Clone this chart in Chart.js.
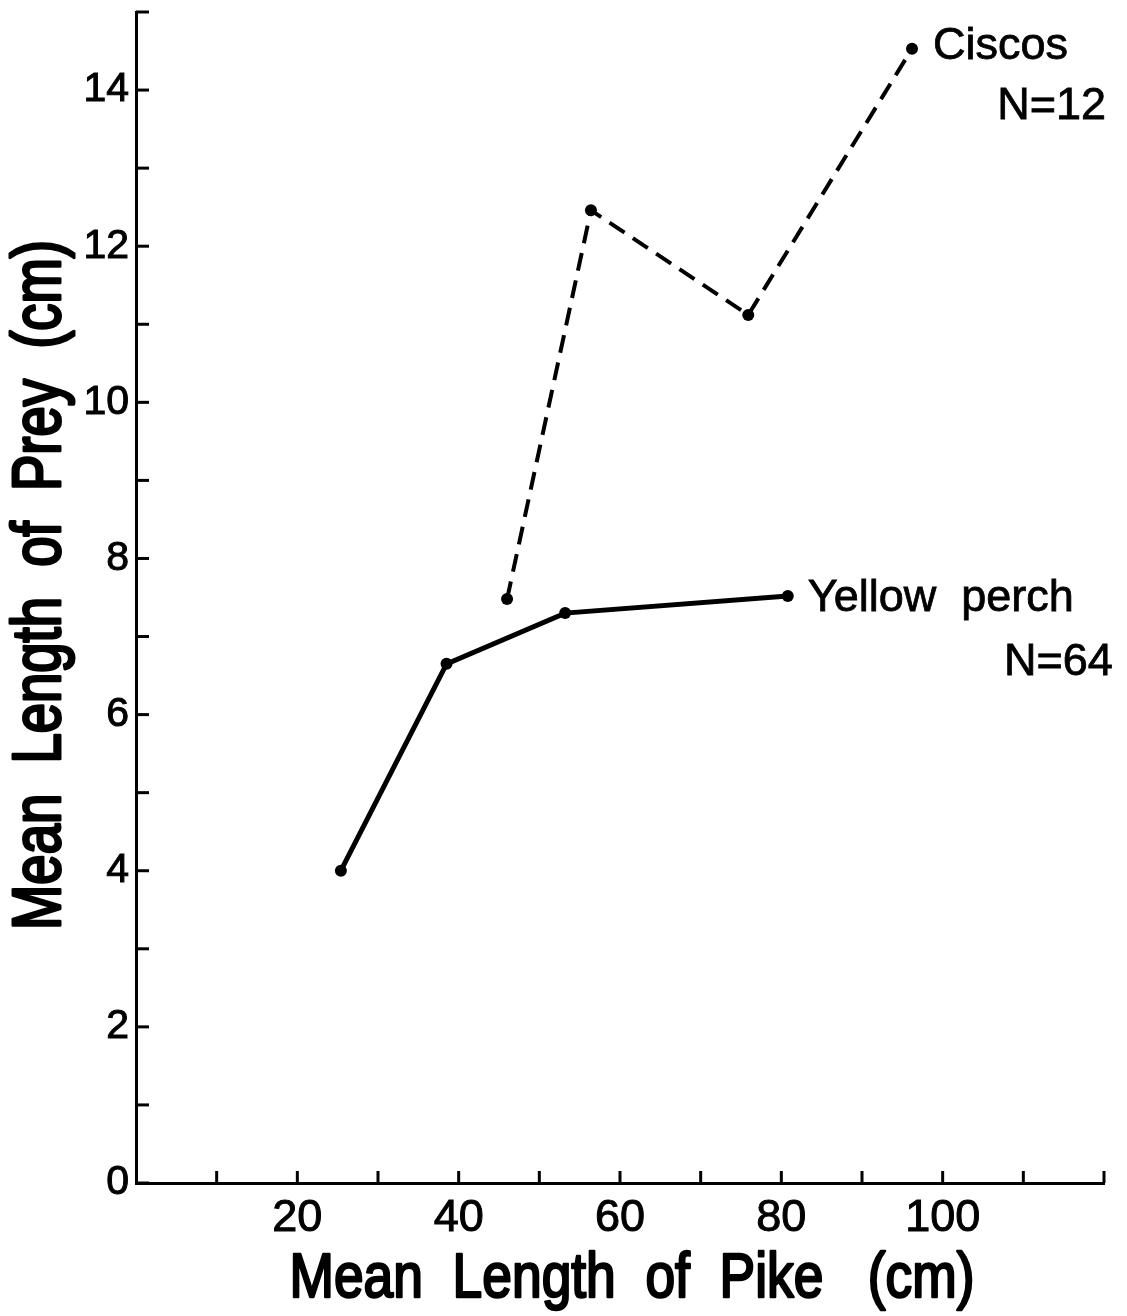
<!DOCTYPE html>
<html lang="en">
<head>
    <meta charset="UTF-8">
    <title>Prey length vs pike length</title>
    <style>
        body { margin: 0; background: #fff; }
        #chartCont { width: 1127px; height: 1316px; }
    </style>
</head>
<body>
    <div id="chartCont">
        <canvas id="myChart" width="1127" height="1316"></canvas>
    </div>
    <script src="https://cdn.jsdelivr.net/npm/chart.js"></script>
    <script>
    // mean pike length (cm) and mean prey length (cm)
    const perchPike = [25.4, 38.5, 53.2, 80.8]
    const perchPrey = [4.0, 6.65, 7.3, 7.52]
    const ciscoPike = [46.0, 56.4, 75.9, 96.2]
    const ciscoPrey = [7.48, 12.46, 11.12, 14.53]

    const perchName = 'Yellow  perch'
    const perchCount = 'N=64'
    const ciscoName = 'Ciscos'
    const ciscoCount = 'N=12'

    const xLabels = [20, 40, 60, 80, 100]
    const yLabels = [0, 2, 4, 6, 8, 10, 12, 14]

    const xTitle = 'Mean  Length  of  Pike   (cm)'
    const yTitle = 'Mean  Length  of  Prey  (cm)'

    const baseFont = '"Liberation Sans", Arial, sans-serif'

    function toPoints(xs, ys) {
        return xs.map((x, i) => ({x: x, y: ys[i]}))
    }

    // draw text squeezed horizontally to a given width (condensed look)
    function condensedText(ctx, text, x, y, width, stroke) {
        const w = ctx.measureText(text).width
        ctx.save()
        ctx.translate(x, y)
        ctx.scale(width / w, 1)
        ctx.fillText(text, 0, 0)
        if (stroke) {
            ctx.lineWidth = stroke
            ctx.lineJoin = 'round'
            ctx.strokeText(text, 0, 0)
        }
        ctx.restore()
    }

    // inward tick marks at every scale tick
    const inwardTicks = {
        id: 'inward_ticks',
        afterDraw: (chart) => {
            const ctx = chart.ctx
            const area = chart.chartArea
            ctx.save()
            ctx.strokeStyle = '#000'
            ctx.lineWidth = 3
            ctx.lineCap = 'butt'
            chart.scales.y.ticks.forEach(t => {
                const py = chart.scales.y.getPixelForValue(t.value)
                ctx.beginPath()
                ctx.moveTo(area.left, py)
                ctx.lineTo(area.left + 13, py)
                ctx.stroke()
            })
            chart.scales.x.ticks.forEach(t => {
                if (t.value === 0) return
                const px = chart.scales.x.getPixelForValue(t.value)
                ctx.beginPath()
                ctx.moveTo(px, area.bottom)
                ctx.lineTo(px, area.bottom - 12)
                ctx.stroke()
            })
            ctx.restore()
        }
    }

    // axis titles in a condensed face
    const axisTitles = {
        id: 'axis_titles',
        afterDraw: (chart) => {
            const ctx = chart.ctx
            const xs = chart.scales.x
            const ys = chart.scales.y
            ctx.save()
            ctx.fillStyle = '#000'
            ctx.strokeStyle = '#000'
            ctx.textAlign = 'center'
            ctx.textBaseline = 'alphabetic'

            ctx.font = '63px ' + baseFont
            condensedText(ctx, xTitle, 632, xs.bottom - 19, 685, 2.5)

            ctx.save()
            ctx.translate(ys.left + 60, 585)
            ctx.rotate(-Math.PI / 2)
            ctx.font = '68px ' + baseFont
            condensedText(ctx, yTitle, 0, 0, 690, 3)
            ctx.restore()
            ctx.restore()
        }
    }

    // series names written beside the last point of each line
    const endLabels = {
        id: 'end_labels',
        afterDatasetsDraw: (chart) => {
            const ctx = chart.ctx
            const xs = chart.scales.x
            const ys = chart.scales.y
            ctx.save()
            ctx.fillStyle = '#000'
            ctx.strokeStyle = '#000'
            ctx.lineWidth = 0.8
            ctx.font = '45px ' + baseFont
            ctx.textBaseline = 'middle'

            const put = (text, x, y) => {
                ctx.fillText(text, x, y)
                ctx.strokeText(text, x, y)
            }

            let n = ciscoPike.length - 1
            let px = xs.getPixelForValue(ciscoPike[n])
            let py = ys.getPixelForValue(ciscoPrey[n])
            ctx.textAlign = 'left'
            put(ciscoName, px + 21, py - 2)
            ctx.textAlign = 'right'
            put(ciscoCount, px + 194, py + 58)

            n = perchPike.length - 1
            px = xs.getPixelForValue(perchPike[n])
            py = ys.getPixelForValue(perchPrey[n])
            ctx.textAlign = 'left'
            put(perchName, px + 20, py + 3)
            ctx.textAlign = 'right'
            put(perchCount, px + 325, py + 67)
            ctx.restore()
        }
    }

    const data = {
        datasets: [{
            label: perchName,
            data: toPoints(perchPike, perchPrey),
            borderColor: '#000',
            backgroundColor: '#000',
            borderWidth: 5,
            pointRadius: 6,
            pointBorderWidth: 0,
        }, {
            label: ciscoName,
            data: toPoints(ciscoPike, ciscoPrey),
            borderColor: '#000',
            backgroundColor: '#000',
            borderWidth: 4,
            borderDash: [18, 10],
            pointRadius: 6,
            pointBorderWidth: 0,
        }]
    }

    const config = {
        type: 'line',
        data: data,
        plugins: [inwardTicks, axisTitles, endLabels],
        options: {
            responsive: false,
            animation: false,
            layout: {
                padding: {top: 12, right: 23, left: 0, bottom: 0}
            },
            plugins: {
                legend: {display: false},
                tooltip: {enabled: false}
            },
            scales: {
                x: {
                    type: 'linear',
                    min: 0,
                    max: 120,
                    afterFit: (scale) => {
                        scale.height = 133
                        scale.paddingLeft = 0
                        scale.paddingRight = 0
                    },
                    grid: {drawOnChartArea: false, drawTicks: false},
                    border: {color: '#000', width: 3},
                    ticks: {
                        stepSize: 10,
                        autoSkip: false,
                        maxRotation: 0,
                        padding: 9,
                        color: '#000',
                        textStrokeColor: '#000',
                        textStrokeWidth: 1,
                        font: {family: baseFont, size: 45},
                        callback: (value) => xLabels.includes(value) ? String(value) : ''
                    }
                },
                y: {
                    type: 'linear',
                    min: 0,
                    max: 15,
                    afterFit: (scale) => {
                        scale.width = 136
                        scale.paddingTop = 0
                        scale.paddingBottom = 0
                    },
                    grid: {drawOnChartArea: false, drawTicks: false},
                    border: {color: '#000', width: 3},
                    ticks: {
                        stepSize: 1,
                        autoSkip: false,
                        padding: 7,
                        color: '#000',
                        textStrokeColor: '#000',
                        textStrokeWidth: 1,
                        font: {family: baseFont, size: 41},
                        callback: (value) => yLabels.includes(value) ? String(value) : ''
                    }
                }
            }
        }
    }

    const myChart = new Chart(document.getElementById('myChart'), config)
    </script>
</body>
</html>
